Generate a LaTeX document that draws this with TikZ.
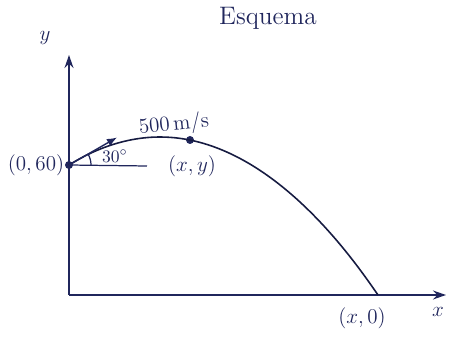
\documentclass[tikz,border=0pt]{standalone}
\usepackage{tikz}
\usetikzlibrary{arrows.meta}
\definecolor{ink}{RGB}{32,38,92}

\begin{document}
\begin{tikzpicture}[x=0.02cm,y=-0.02cm,font=\large,
 axis/.style={ink,line width=0.9pt,-{Stealth[length=2.6mm,width=1.8mm]}},
 traj/.style={ink!70!black,line width=0.9pt},
 dot/.style={circle,fill=ink,inner sep=0pt,minimum size=1.6mm},
 lab/.style={text=ink,inner sep=1pt},
 vel/.style={ink,line width=0.8pt,-{Latex[length=2mm,width=1.6mm]}}]
\useasboundingbox (0,0) rectangle (458,338);
\coordinate (orig) at (69,295);
\coordinate (ytip) at (69,55);
\coordinate (xtip) at (446,295);
\coordinate (hor) at (147,166);
\node[dot] (p0) at (69,165) {};
\node[dot] (pxy) at (190,140) {};
\coordinate (land) at (378,295);
\coordinate (veltip) at (117,137.5);
\draw[axis] (orig) -- (ytip);
\draw[axis] (orig) -- (xtip);
\draw[traj] (p0.center) parabola bend (160,137) (land);
\draw[ink,line width=0.7pt] (p0.center) -- (hor);
\draw[vel] (p0.center) -- (veltip);
\draw[ink,line width=0.7pt] (91,165) arc[start angle=0,end angle=-30,radius=22];
\node[lab,font=\Large] (title) at (268,18) {Esquema};
\node[lab] (ylab) at (45,38) {$y$};
\node[lab] (xlab) at (438,312) {$x$};
\node[lab] (p0lab) at (36,165) {$(0,60)$};
\node[lab,font=\normalsize] (anglab) at (115,156) {$30^\circ$};
\node[lab,rotate=6] (vlab) at (174,125) {$500\,\mathrm{m/s}$};
\node[lab] (pxylab) at (192,166) {$(x,y)$};
\node[lab] (landlab) at (362,318) {$(x,0)$};
\end{tikzpicture}
\end{document}
